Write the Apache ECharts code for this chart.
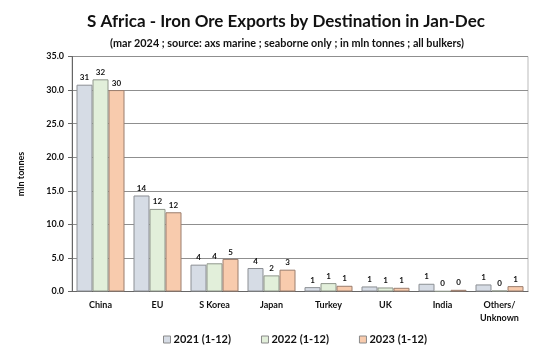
<!DOCTYPE html>
<html><head><meta charset="utf-8">
<script src="https://cdn.jsdelivr.net/npm/echarts@6/dist/echarts.min.js"></script>
<style>html,body{margin:0;padding:0;background:#fff}#c{width:554px;height:359px}</style>
</head><body><div id="c"></div>
<script>
const categories = ['China', 'EU', 'S Korea', 'Japan', 'Turkey', 'UK', 'India', 'Others/\nUnknown'];
const seriesNames = ['2021 (1-12)', '2022 (1-12)', '2023 (1-12)'];
const v2021 = [30.8, 14.3, 4.0, 3.5, 0.65, 0.75, 1.15, 1.05];
const v2022 = [31.6, 12.3, 4.2, 2.4, 1.25, 0.6, 0.05, 0.15];
const v2023 = [30.0, 11.8, 4.85, 3.25, 0.85, 0.55, 0.25, 0.8];
const yTicks = [0, 5, 10, 15, 20, 25, 30, 35];

const FONT = 'Lato';
const fills = ['#d6dce5', '#e2efda', '#f8cbad'];
const borders = ['#8c8f94', '#8f968b', '#9b7e6e'];
const values = [v2021, v2022, v2023];

const chart = echarts.init(document.getElementById('c'), null, {renderer: 'canvas'});
chart.setOption({
  animation: false,
  textStyle: {fontFamily: FONT},
  title: [{
    text: 'S Africa - Iron Ore Exports by Destination in Jan-Dec',
    left: 281, top: 8, textAlign: 'center',
    textStyle: {fontFamily: FONT, fontSize: 17, fontWeight: 'bold', color: '#111'}
  }, {
    text: '(mar 2024 ; source: axs marine ; seaborne only ; in mln tonnes ; all bulkers)',
    left: 282, top: 33, textAlign: 'center',
    textStyle: {fontFamily: FONT, fontSize: 10.8, fontWeight: 'bold', color: '#111'}
  }],
  legend: {
    top: 329, left: 158, itemGap: 30,
    itemWidth: 7, itemHeight: 7, icon: 'rect',
    textStyle: {fontFamily: FONT, fontSize: 11, fontWeight: 'bold', color: '#111', padding: [0, 0, 0, -2]},
    data: seriesNames.map((n, i) => ({name: n, itemStyle: {color: fills[i], borderColor: '#8a8a8a', borderWidth: 1}}))
  },
  grid: {left: 72, right: 26, top: 56.5, bottom: 67.5, show: true, borderColor: '#bbb', borderWidth: 1},
  xAxis: {
    type: 'category', data: categories,
    axisLine: {lineStyle: {color: '#666'}},
    axisTick: {show: false},
    axisLabel: {fontFamily: FONT, fontSize: 9, fontWeight: 'bold', color: '#111', margin: 7, lineHeight: 13, interval: 0}
  },
  yAxis: {
    type: 'value', min: 0, max: 35, interval: 5,
    name: 'mln tonnes', nameLocation: 'middle', nameGap: 46, nameRotate: 90,
    nameTextStyle: {fontFamily: FONT, fontSize: 9, fontWeight: 'bold', color: '#111'},
    axisLine: {show: true, lineStyle: {color: '#666'}},
    axisTick: {show: true, length: 4, inside: false, lineStyle: {color: '#666'}},
    axisLabel: {fontFamily: FONT, fontSize: 9, fontWeight: 'bold', color: '#111', margin: 8,
      formatter: v => yTicks.includes(v) ? v.toFixed(1) : ''},
    splitLine: {lineStyle: {color: '#8f8f8f', width: 1}}
  },
  series: values.map((arr, i) => ({
    name: seriesNames[i], type: 'bar', data: arr,
    barWidth: 16, barGap: '0%',
    itemStyle: {color: fills[i], borderColor: borders[i], borderWidth: 1},
    label: {show: true, position: 'top', distance: 3, fontFamily: FONT, fontSize: 8, fontWeight: 'bold', color: '#111',
      formatter: p => Math.round(p.value)}
  }))
});
</script></body></html>
